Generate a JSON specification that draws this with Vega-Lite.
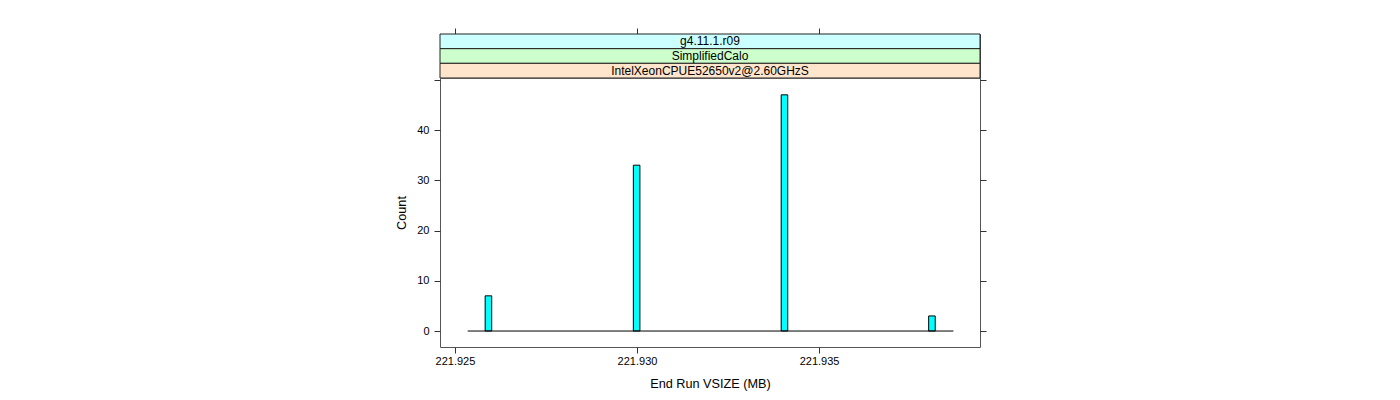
{
  "$schema": "https://vega.github.io/schema/vega-lite/v6.json",
  "background": "white",
  "padding": {"left": 395, "top": 27, "right": 0, "bottom": 0},
  "spacing": 0,
  "bounds": "flush",
  "config": {
    "font": "Liberation Sans",
    "view": {"stroke": "#555555", "strokeWidth": 1},
    "axis": {
      "domain": false,
      "grid": false,
      "tickColor": "#333333",
      "tickSize": 6,
      "labelFont": "Liberation Sans",
      "labelFontSize": 11,
      "labelColor": "#000000",
      "titleFont": "Liberation Sans",
      "titleFontSize": 12.7,
      "titleFontWeight": "normal",
      "titleColor": "#000000"
    }
  },
  "datasets": {
    "strips": [
      {"label": "g4.11.1.r09", "order": 1},
      {"label": "SimplifiedCalo", "order": 2},
      {"label": "IntelXeonCPUE52650v2@2.60GHzS", "order": 3}
    ],
    "bins": [
      {"bin_start": 221.92583, "bin_end": 221.92601, "count": 7},
      {"bin_start": 221.92990, "bin_end": 221.93008, "count": 33},
      {"bin_start": 221.93396, "bin_end": 221.93414, "count": 47},
      {"bin_start": 221.93801, "bin_end": 221.93819, "count": 3}
    ],
    "baseline": [
      {"start": 221.92535, "end": 221.93869, "zero": 0}
    ]
  },
  "vconcat": [
    {
      "width": 540,
      "height": 44,
      "data": {"name": "strips"},
      "layer": [
        {
          "mark": {"type": "rect", "stroke": "#222222", "strokeWidth": 1},
          "encoding": {
            "x": {
              "datum": 221.92459,
              "type": "quantitative",
              "scale": {"domain": [221.92459, 221.93942], "nice": false, "zero": false},
              "axis": {"orient": "top", "labels": false, "values": [221.925, 221.93, 221.935], "title": null}
            },
            "x2": {"datum": 221.93942},
            "y": {
              "field": "label",
              "type": "nominal",
              "sort": {"field": "order"},
              "scale": {"paddingInner": 0, "paddingOuter": 0},
              "axis": null
            },
            "fill": {
              "field": "label",
              "type": "nominal",
              "scale": {
                "domain": ["g4.11.1.r09", "SimplifiedCalo", "IntelXeonCPUE52650v2@2.60GHzS"],
                "range": ["#ccffff", "#ccffcc", "#ffe5cc"]
              },
              "legend": null
            }
          }
        },
        {
          "mark": {"type": "text", "fontSize": 12, "font": "Liberation Sans", "color": "#000000", "baseline": "middle"},
          "encoding": {
            "x": {"datum": 221.932005, "type": "quantitative"},
            "y": {"field": "label", "type": "nominal", "sort": {"field": "order"}},
            "text": {"field": "label", "type": "nominal"}
          }
        }
      ]
    },
    {
      "width": 540,
      "height": 269,
      "layer": [
        {
          "data": {"name": "bins"},
          "mark": {"type": "rect", "fill": "#00ffff", "stroke": "#000000", "strokeWidth": 1},
          "encoding": {
            "x": {
              "field": "bin_start",
              "type": "quantitative",
              "scale": {"domain": [221.92459, 221.93942], "nice": false, "zero": false},
              "axis": {
                "values": [221.925, 221.93, 221.935],
                "format": ".3f",
                "labelPadding": 2,
                "title": "End Run VSIZE (MB)",
                "titlePadding": 11
              }
            },
            "x2": {"field": "bin_end"},
            "y": {
              "field": "count",
              "type": "quantitative",
              "scale": {"domain": [-3.18, 50.35], "nice": false, "zero": false},
              "axis": {
                "values": [0, 10, 20, 30, 40, 50],
                "labelExpr": "datum.value == 50 ? '' : datum.label",
                "labelPadding": 5,
                "title": "Count",
                "titlePadding": 8
              }
            },
            "y2": {"datum": 0}
          }
        },
        {
          "data": {"name": "baseline"},
          "mark": {"type": "rule", "color": "#000000", "strokeWidth": 1},
          "encoding": {
            "x": {"field": "start", "type": "quantitative"},
            "x2": {"field": "end"},
            "y": {
              "field": "zero",
              "type": "quantitative",
              "axis": {
                "orient": "right",
                "values": [0, 10, 20, 30, 40, 50],
                "labels": false,
                "title": null
              }
            }
          }
        }
      ],
      "resolve": {"axis": {"y": "independent"}}
    }
  ]
}
